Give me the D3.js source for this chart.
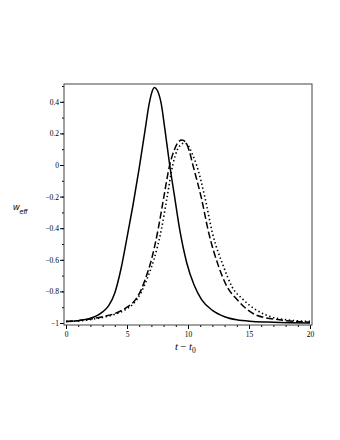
<!DOCTYPE html>
<html lang="en">
<head>
<meta charset="UTF-8">
<title>w_eff vs t - t0</title>
<style>
  * { margin: 0; padding: 0; }
  body { background: #fff; width: 340px; height: 440px; overflow: hidden; }
  .tick text { font-family: "Liberation Serif", serif; font-size: 7.5px; fill: #000; }
</style>
</head>
<body>
<div id="chart"></div>
<script src="https://d3js.org/d3.v7.min.js"></script>
<script>
// curve samples: [t - t0, w_eff]
var solidT = [0, 1, 2, 2.5, 3, 3.5, 4, 4.5, 5, 5.5, 6, 6.5, 6.8, 7.0, 7.25, 7.5, 7.8, 8.1, 8.5, 8.9, 9.3, 9.9, 10.5, 11.1, 12, 13, 14, 15.3, 17, 20];
var solidW = [-0.99, -0.985, -0.97, -0.955, -0.93, -0.89, -0.81, -0.66, -0.46, -0.25, -0.02, 0.23, 0.38, 0.45, 0.49, 0.47, 0.39, 0.23, 0.0, -0.2, -0.4, -0.62, -0.76, -0.85, -0.92, -0.96, -0.98, -0.99, -0.995, -1.0];

var dashT = [0, 1, 2, 3, 4, 5, 5.5, 6.1, 6.6, 7.0, 7.57, 7.98, 8.5, 8.9, 9.2, 9.5, 9.8, 10.1, 10.4, 11.1, 11.7, 12.5, 13.2, 14.0, 15.6, 17.5, 20];
var dashW = [-0.99, -0.985, -0.975, -0.96, -0.94, -0.9, -0.87, -0.8, -0.7, -0.6, -0.4, -0.22, 0.0, 0.1, 0.145, 0.158, 0.145, 0.09, 0.0, -0.21, -0.43, -0.64, -0.77, -0.85, -0.95, -0.98, -0.995];

var dotT = [0, 1, 2, 3, 4, 5, 5.5, 6.2, 6.75, 7.2, 7.84, 8.25, 8.75, 9.15, 9.45, 9.7, 10.0, 10.35, 10.7, 11.4, 12.0, 12.9, 13.6, 14.5, 16.4, 18.1, 20];
var dotW = [-0.99, -0.987, -0.978, -0.965, -0.945, -0.91, -0.88, -0.8, -0.7, -0.6, -0.4, -0.22, 0.0, 0.1, 0.13, 0.14, 0.125, 0.07, 0.0, -0.21, -0.43, -0.64, -0.77, -0.85, -0.95, -0.98, -0.99];

var xMajor = [0, 5, 10, 15, 20];
var xMinor = d3.range(0, 21, 1);
var yMajor = [-1, -0.8, -0.6, -0.4, -0.2, 0, 0.2, 0.4];
var yMinor = d3.range(-1, 0.51, 0.1);

var W = 340, H = 440;
var box = {left: 64, right: 312, top: 84, bottom: 325};

var svg = d3.select("#chart").append("svg")
  .attr("width", W).attr("height", H);

svg.append("rect").attr("width", W).attr("height", H).attr("fill", "#fff");

var x = d3.scaleLinear().domain([0, 20]).range([66, 310]);
var y = d3.scaleLinear().domain([-1, 0.5]).range([323, 86]);

function fmt(d) {
  if (d === 0) return "0";
  if (d === -1) return "\u22121";
  return d3.format(".1f")(d).replace("-", "\u2212");
}

// minor ticks
svg.append("g")
  .attr("transform", "translate(" + box.left + ",0)")
  .call(d3.axisLeft(y).tickValues(yMinor).tickSize(2).tickFormat(""))
  .call(function(g) { g.select(".domain").remove(); });

svg.append("g")
  .attr("transform", "translate(0," + box.bottom + ")")
  .call(d3.axisBottom(x).tickValues(xMinor).tickSize(2).tickFormat(""))
  .call(function(g) { g.select(".domain").remove(); });

// major ticks with labels
svg.append("g")
  .attr("transform", "translate(" + box.left + ",0)")
  .call(d3.axisLeft(y).tickValues(yMajor).tickSize(4).tickPadding(1).tickFormat(fmt))
  .call(function(g) { g.select(".domain").remove(); });

svg.append("g")
  .attr("transform", "translate(0," + box.bottom + ")")
  .call(d3.axisBottom(x).tickValues(xMajor).tickSize(4).tickPadding(3).tickFormat(d3.format("d")))
  .call(function(g) { g.select(".domain").remove(); });

svg.selectAll(".tick line").attr("stroke", "#000");

// frame
svg.append("rect")
  .attr("x", box.left).attr("y", box.top)
  .attr("width", box.right - box.left).attr("height", box.bottom - box.top)
  .attr("fill", "none").attr("stroke", "#444").attr("stroke-width", 1);

var line = d3.line()
  .x(function(d) { return x(d[0]); })
  .y(function(d) { return y(d[1]); })
  .curve(d3.curveMonotoneX);

function pairs(ts, ws) { return ts.map(function(t, i) { return [t, ws[i]]; }); }

svg.append("path").datum(pairs(dotT, dotW))
  .attr("d", line).attr("fill", "none").attr("stroke", "#000")
  .attr("stroke-width", 1.6).attr("stroke-dasharray", "1.4,2.6");

svg.append("path").datum(pairs(dashT, dashW))
  .attr("d", line).attr("fill", "none").attr("stroke", "#000")
  .attr("stroke-width", 1.5).attr("stroke-dasharray", "7,3");

svg.append("path").datum(pairs(solidT, solidW))
  .attr("d", line).attr("fill", "none").attr("stroke", "#000")
  .attr("stroke-width", 1.5);

// axis titles
var yl = svg.append("text")
  .attr("x", 13).attr("y", 210)
  .style("font-family", "'Liberation Sans', sans-serif")
  .style("font-style", "italic").style("font-size", "9px");
yl.append("tspan").text("w");
yl.append("tspan").attr("dy", 4).style("font-size", "7px").text("eff");

var xl = svg.append("text")
  .attr("x", 175).attr("y", 350)
  .style("font-family", "'Liberation Serif', serif")
  .style("font-size", "10.5px");
xl.append("tspan").style("font-style", "italic").text("t");
xl.append("tspan").text(" \u2212 ");
xl.append("tspan").style("font-style", "italic").text("t");
xl.append("tspan").attr("dy", 2.5).style("font-size", "7.5px").text("0");
</script>
</body>
</html>
